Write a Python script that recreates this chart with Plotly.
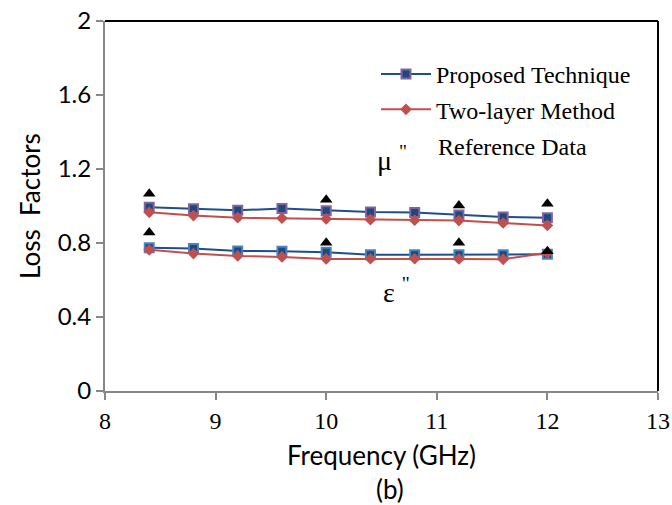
import plotly.graph_objects as go

freq = [8.4, 8.8, 9.2, 9.6, 10.0, 10.4, 10.8, 11.2, 11.6, 12.0]
prop_mu = [0.993, 0.985, 0.977, 0.986, 0.975, 0.968, 0.965, 0.952, 0.941, 0.937]
two_mu = [0.966, 0.948, 0.937, 0.934, 0.930, 0.926, 0.923, 0.921, 0.908, 0.895]
prop_eps = [0.775, 0.770, 0.757, 0.756, 0.750, 0.736, 0.736, 0.736, 0.737, 0.739]
two_eps = [0.763, 0.743, 0.730, 0.725, 0.714, 0.715, 0.715, 0.714, 0.712, 0.747]
ref_freq = [8.4, 10.0, 11.2, 12.0]
ref_mu = [1.066, 1.034, 1.003, 1.012]
ref_eps = [0.857, 0.801, 0.801, 0.756]

blue_line = "#1F4E8C"
blue_fill = "#1F497D"
red = "#C0504D"

# plot area in pixels
L, R, T, B = 105, 658, 21, 391
W, H = R - L, B - T

def px(x):
    return (x - L) / W

def py(y):
    return (B - y) / H

fig = go.Figure()
fig.add_trace(go.Scatter(x=freq, y=prop_mu, mode="lines+markers", name="Proposed Technique",
                         legendgroup="a", line=dict(color=blue_line, width=2),
                         marker=dict(symbol="square", size=9, color=blue_fill,
                                     line=dict(color="#8064A2", width=2))))
fig.add_trace(go.Scatter(x=freq, y=prop_eps, mode="lines+markers", name="Proposed Technique",
                         legendgroup="a", showlegend=False, line=dict(color=blue_line, width=2),
                         marker=dict(symbol="square", size=9, color=blue_fill,
                                     line=dict(color="#4F81BD", width=2))))
fig.add_trace(go.Scatter(x=freq, y=two_mu, mode="lines+markers", name="Two-layer Method",
                         legendgroup="b", line=dict(color=red, width=2),
                         marker=dict(symbol="diamond", size=9, color=red)))
fig.add_trace(go.Scatter(x=freq, y=two_eps, mode="lines+markers", name="Two-layer Method",
                         legendgroup="b", showlegend=False, line=dict(color=red, width=2),
                         marker=dict(symbol="diamond", size=9, color=red)))
fig.add_trace(go.Scatter(x=ref_freq, y=ref_mu, mode="markers", name="Reference Data",
                         showlegend=False,
                         marker=dict(symbol="triangle-up", size=11, color="black")))
fig.add_trace(go.Scatter(x=ref_freq, y=ref_eps, mode="markers", name="Reference Data",
                         showlegend=False,
                         marker=dict(symbol="triangle-up", size=11, color="black")))

fig.update_layout(
    width=672, height=505,
    margin=dict(l=L, r=672 - R, t=T, b=505 - B),
    plot_bgcolor="white", paper_bgcolor="white",
    showlegend=True,
    legend=dict(x=px(376), y=py(52), xanchor="left", yanchor="top",
                font=dict(family="Liberation Serif", size=24, color="black"),
                bgcolor="rgba(0,0,0,0)", tracegroupgap=1, itemwidth=50),
    xaxis=dict(range=[8, 13], tickvals=[8, 9, 10, 11, 12, 13], showgrid=False, zeroline=False,
               automargin=False,
               showline=True, linecolor="#888888", linewidth=2, ticks="outside", ticklen=7,
               tickcolor="#888888", tickwidth=1.5,
               tickfont=dict(family="Liberation Serif", size=24, color="black")),
    yaxis=dict(range=[0, 2], tickvals=[0, 0.4, 0.8, 1.2, 1.6, 2],
               ticktext=["0", "0.4", "0.8", "1.2", "1.6", "2"],
               showgrid=False, zeroline=False, automargin=False,
               showline=True, linecolor="#888888", linewidth=2, ticks="outside", ticklen=7,
               tickcolor="#888888", tickwidth=1.5,
               tickfont=dict(family="Lato", size=24, color="black")),
    shapes=[
        dict(type="line", xref="paper", yref="paper", x0=0, x1=1, y0=1, y1=1,
             line=dict(color="black", width=2)),
        dict(type="line", xref="paper", yref="paper", x0=1, x1=1, y0=0, y1=1,
             line=dict(color="black", width=2)),
    ],
)
serif = dict(family="Liberation Serif", size=24, color="black")
sans = dict(family="Lato", size=26, color="black")
fig.add_annotation(text="Reference Data", xref="paper", yref="paper",
                   x=px(436), y=py(147), xanchor="left", yanchor="middle",
                   showarrow=False, font=serif)
fig.add_annotation(text="μ <sup>\"</sup>", xref="paper", yref="paper", x=px(392), y=py(158),
                   xanchor="center", yanchor="middle",
                   showarrow=False, font=dict(family="Liberation Serif", size=28, color="black"))
fig.add_annotation(text="ε <sup>\"</sup>", xref="paper", yref="paper", x=px(396), y=py(290),
                   xanchor="center", yanchor="middle",
                   showarrow=False, font=dict(family="Liberation Serif", size=28, color="black"))
fig.add_annotation(text="Frequency (GHz)", xref="paper", yref="paper", x=px(381), y=py(455),
                   xanchor="center", yanchor="middle",
                   showarrow=False, font=sans)
fig.add_annotation(text="(b)", xref="paper", yref="paper", x=px(390), y=py(489),
                   xanchor="center", yanchor="middle",
                   showarrow=False, font=sans)
fig.add_annotation(text="Loss  Factors", xref="paper", yref="paper", x=px(30), y=py(206),
                   xanchor="center", yanchor="middle",
                   textangle=-90, showarrow=False, font=sans)

fig.write_html("out.html")
